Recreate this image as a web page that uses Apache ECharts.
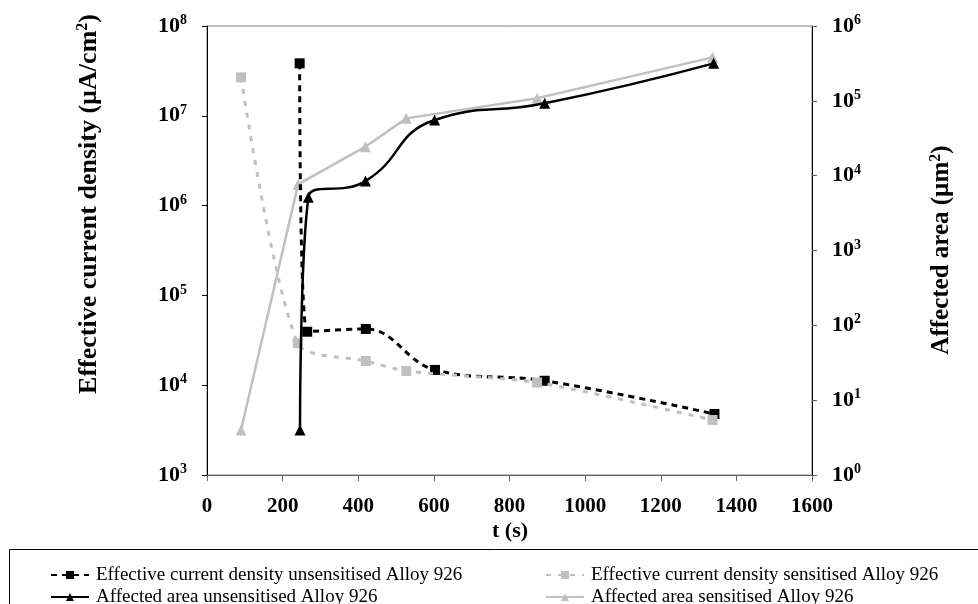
<!DOCTYPE html>
<html lang="en">
<head>
    <meta charset="UTF-8">
    <title>Current density and affected area, Alloy 926</title>
    <script src="https://cdn.jsdelivr.net/npm/echarts@6/dist/echarts.min.js"></script>
    <style>
        html, body { margin: 0; padding: 0; background: #fff; }
        #chart { width: 978px; height: 604px; }
    </style>
</head>
<body>
<div id="chart"></div>
<script>
    // t (s) and values
    var tCdUns = [245, 265, 420, 603, 893, 1342];
    var cdUns = [3.84e7, 3.94e4, 4.23e4, 1.48e4, 1.12e4, 4.78e3];
    var tCdSen = [90, 240, 420, 527, 873, 1337];
    var cdSen = [2.68e7, 2.93e4, 1.86e4, 1.44e4, 1.07e4, 4.1e3];
    var tAreaUns = [246, 268, 419, 602, 893, 1340];
    var areaUns = [4, 5130, 8470, 55400, 92600, 317000];
    var tAreaSen = [90, 241, 419, 527, 873, 1337];
    var areaSen = [4, 7650, 24400, 58300, 108000, 381000];

    var names = [
        'Effective current density unsensitised Alloy 926',
        'Effective current density sensitised Alloy 926',
        'Affected area unsensitised Alloy 926',
        'Affected area sensitised Alloy 926'
    ];

    var FONT = '"Liberation Serif", "Times New Roman", serif';
    var GREY = '#c0c0c0';

    function pairs(t, v) {
        return t.map(function (x, i) { return [x, v[i]]; });
    }

    var powRich = {
        b: {fontFamily: FONT, fontWeight: 'bold', fontSize: 22, color: '#000'},
        s: {fontFamily: FONT, fontWeight: 'bold', fontSize: 14, color: '#000', padding: [0, 0, 11, 0]}
    };

    function powLabel(v) {
        var e = Math.round(Math.log(v) / Math.LN10);
        return '{b|10}{s|' + e + '}';
    }

    // one legend per entry so the 2x2 layout is fixed
    function legendItem(name, left, top) {
        return {
            data: [name],
            left: left, top: top,
            itemWidth: 38, itemHeight: 10,
            textStyle: {fontFamily: FONT, fontSize: 19, color: '#000', lineHeight: 20, padding: [0, 0, 0, 2]}
        };
    }

    var chart = echarts.init(document.getElementById('chart'));

    var option = {
        animation: false,
        backgroundColor: '#fff',
        grid: {
            left: 207, right: 166, top: 26, bottom: 129,
            show: true, borderColor: '#808080', borderWidth: 1
        },
        legend: [
            legendItem(names[0], 45, 560),
            legendItem(names[2], 45, 582),
            legendItem(names[1], 540, 560),
            legendItem(names[3], 540, 582)
        ],
        xAxis: {
            type: 'value',
            min: 0, max: 1600, interval: 200,
            axisLine: {lineStyle: {color: '#606060', width: 1}},
            axisTick: {inside: false, length: 6, lineStyle: {color: '#606060'}},
            axisLabel: {
                fontFamily: FONT, fontWeight: 'bold', fontSize: 21, color: '#000', margin: 21,
                formatter: function (v) { return String(v); }
            },
            splitLine: {show: false}
        },
        yAxis: [
            {
                type: 'log', logBase: 10,
                min: 1e3, max: 1e8,
                axisLine: {show: true, lineStyle: {color: '#000', width: 1}},
                axisTick: {show: true, inside: false, length: 5, lineStyle: {color: '#000'}},
                axisLabel: {formatter: powLabel, rich: powRich, margin: 20},
                splitLine: {show: false}
            },
            {
                type: 'log', logBase: 10,
                min: 1, max: 1e6,
                position: 'right',
                axisLine: {show: true, lineStyle: {color: '#000', width: 1}},
                axisTick: {show: true, inside: false, length: 5, lineStyle: {color: '#606060'}},
                axisLabel: {formatter: powLabel, rich: powRich, margin: 20},
                splitLine: {show: false}
            }
        ],
        series: [
            {
                name: names[0], type: 'line', yAxisIndex: 0,
                data: pairs(tCdUns, cdUns),
                smooth: 0.4,
                symbol: 'rect', symbolSize: 10,
                itemStyle: {color: '#000'},
                lineStyle: {color: '#000', width: 3, type: [6, 5]},
                z: 3
            },
            {
                name: names[1], type: 'line', yAxisIndex: 0,
                data: pairs(tCdSen, cdSen),
                smooth: 0.25,
                symbol: 'rect', symbolSize: 10,
                itemStyle: {color: GREY},
                lineStyle: {color: GREY, width: 3, type: [5, 7]},
                z: 4
            },
            {
                name: names[2], type: 'line', yAxisIndex: 1,
                data: pairs(tAreaUns, areaUns),
                smooth: 0.5,
                symbol: 'triangle', symbolSize: 11,
                itemStyle: {color: '#000'},
                lineStyle: {color: '#000', width: 2.5},
                z: 5
            },
            {
                name: names[3], type: 'line', yAxisIndex: 1,
                data: pairs(tAreaSen, areaSen),
                smooth: false,
                symbol: 'triangle', symbolSize: 11,
                itemStyle: {color: GREY},
                lineStyle: {color: GREY, width: 2.5},
                z: 2
            }
        ],
        graphic: [
            {
                type: 'text', x: 89, y: 204, rotation: Math.PI / 2,
                style: {
                    text: 'Effective current density (µA/cm{s|2})',
                    font: 'bold 26px ' + FONT, fill: '#000',
                    align: 'center', verticalAlign: 'middle',
                    rich: {s: {font: 'bold 16px ' + FONT, fill: '#000', padding: [0, 0, 13, 0]}}
                }
            },
            {
                type: 'text', x: 942, y: 250, rotation: Math.PI / 2,
                style: {
                    text: 'Affected area (µm{s|2})',
                    font: 'bold 25px ' + FONT, fill: '#000',
                    align: 'center', verticalAlign: 'middle',
                    rich: {s: {font: 'bold 16px ' + FONT, fill: '#000', padding: [0, 0, 13, 0]}}
                }
            },
            {
                type: 'text', x: 510, y: 531,
                style: {
                    text: 't (s)', font: 'bold 22px ' + FONT, fill: '#000',
                    align: 'center', verticalAlign: 'middle'
                }
            },
            {
                type: 'rect',
                shape: {x: 9.5, y: 549.5, width: 990, height: 80},
                style: {fill: 'none', stroke: '#000', lineWidth: 1}
            }
        ]
    };

    chart.setOption(option);
</script>
</body>
</html>
